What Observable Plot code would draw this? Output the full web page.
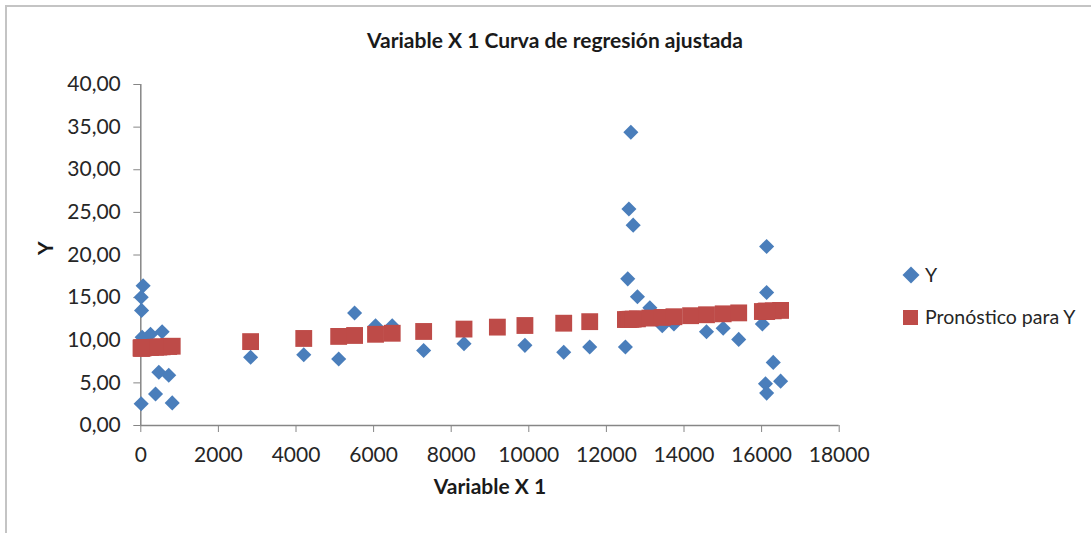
<!DOCTYPE html>
<html>
<head>
<meta charset="utf-8">
<script src="https://cdn.jsdelivr.net/npm/d3@7"></script>
<script src="https://cdn.jsdelivr.net/npm/@observablehq/plot@0.6"></script>
<style>
  html, body { margin: 0; padding: 0; background: #fff; }
  #chart {
    position: relative; width: 1091px; height: 533px; overflow: hidden;
    font-family: Lato, "Open Sans", sans-serif; color: #262626;
  }
  #frame {
    position: absolute; left: 5px; top: 5px; width: 1200px; height: 600px;
    border-top: 2px solid #c4c4c4; border-left: 2px solid #c4c4c4;
  }
  #title {
    position: absolute; left: 0; width: 1110px; top: 27px; text-align: center;
    font-weight: bold; font-size: 21px; color: #1a1a1a;
  }
  #plot { position: absolute; left: 0; top: 0; }
  .legend-item {
    position: absolute; left: 901px; display: flex; align-items: center;
    font-size: 19.5px; color: #262626; white-space: nowrap;
  }
  .legend-item svg { margin-right: 4px; }
</style>
</head>
<body>
<div id="chart">
  <div id="frame"></div>
  <div id="title">Variable X 1 Curva de regresión ajustada</div>
  <div id="plot"></div>
  <div class="legend-item" style="top:263px"><svg width="20" height="22"><rect x="4" y="5" width="12" height="12" fill="#4a7ebb" transform="rotate(45 10 11)"/></svg><span>Y</span></div>
  <div class="legend-item" style="top:305px"><svg width="20" height="22"><rect x="2" y="4" width="15" height="15" fill="#be4b48"/></svg><span>Pronóstico para Y</span></div>
</div>
<script>
// Observed values of Variable X 1 and Y
const varX1 = [60, 10, 20, 35, 250, 550, 465, 720, 380, 10, 810,
  2830, 4200, 5100, 5510, 6050, 6480, 7290, 8330, 9190, 9900, 10900, 11570,
  12490, 12550, 12580, 12630, 12690, 12800, 13120, 13440, 13740, 14170, 14580, 15010, 15410,
  16130, 16130, 16020, 16300, 16100, 16490, 16130];
const yObs = [16.4, 15.05, 13.5, 10.35, 10.7, 11.0, 6.25, 5.9, 3.7, 2.55, 2.65,
  8.0, 8.3, 7.8, 13.2, 11.7, 11.7, 8.8, 9.6, 11.5, 9.4, 8.6, 9.2,
  9.2, 17.2, 25.4, 34.4, 23.5, 15.1, 13.8, 11.7, 11.9, 12.9, 11.0, 11.4, 10.1,
  21.0, 15.6, 11.9, 7.4, 4.9, 5.2, 3.8];
// Fitted values (Pronóstico para Y)
const yPred = [9.10, 9.08, 9.09, 9.09, 9.15, 9.23, 9.20, 9.27, 9.18, 9.08, 9.30,
  9.84, 10.21, 10.45, 10.56, 10.70, 10.82, 11.03, 11.31, 11.54, 11.73, 12.00, 12.18,
  12.43, 12.44, 12.45, 12.46, 12.48, 12.51, 12.60, 12.68, 12.76, 12.88, 12.99, 13.10, 13.21,
  13.40, 13.40, 13.37, 13.45, 13.39, 13.50, 13.40];

const xTicks = [0, 2000, 4000, 6000, 8000, 10000, 12000, 14000, 16000, 18000];
const yTicks = [0, 5, 10, 15, 20, 25, 30, 35, 40];

const rows = varX1.map((x, i) => ({x, y: yObs[i], pred: yPred[i]}));

const axisGray = "#868686";
const textColor = "#262626";

const chart = Plot.plot({
  width: 1091,
  height: 533,
  marginLeft: 140.3,
  marginRight: 252.3,
  marginTop: 84,
  marginBottom: 108,
  style: {fontFamily: "Lato, 'Open Sans', sans-serif", fontSize: "21px", background: "transparent", overflow: "visible"},
  x: {domain: [0, 18000]},
  y: {domain: [0, 40]},
  marks: [
    Plot.axisY({ticks: yTicks, tickFormat: d => d.toFixed(2).replace(".", ","), tickSize: 7, tickPadding: 13,
      stroke: axisGray, fill: textColor, label: null}),
    Plot.axisX({ticks: xTicks, tickFormat: d => String(d), tickSize: 7, tickPadding: 15,
      stroke: axisGray, fill: textColor, label: null}),
    Plot.ruleX([0], {stroke: axisGray, strokeWidth: 1.5}),
    Plot.ruleY([0], {stroke: axisGray, strokeWidth: 1.5}),
    Plot.dot(rows, {x: "x", y: "y", symbol: "diamond2", r: 6.8, fill: "#4a7ebb"}),
    Plot.dot(rows, {x: "x", y: "pred", symbol: "square", r: 9.5, fill: "#be4b48"}),
    Plot.text(["Variable X 1"], {text: d => d, frameAnchor: "bottom", dy: 68, fontWeight: "bold", fill: "#1a1a1a"}),
    Plot.text(["Y"], {text: d => d, frameAnchor: "left", dx: -95, rotate: -90, fontWeight: "bold", fill: "#1a1a1a"})
  ]
});
document.getElementById("plot").appendChild(chart);
</script>
</body>
</html>
